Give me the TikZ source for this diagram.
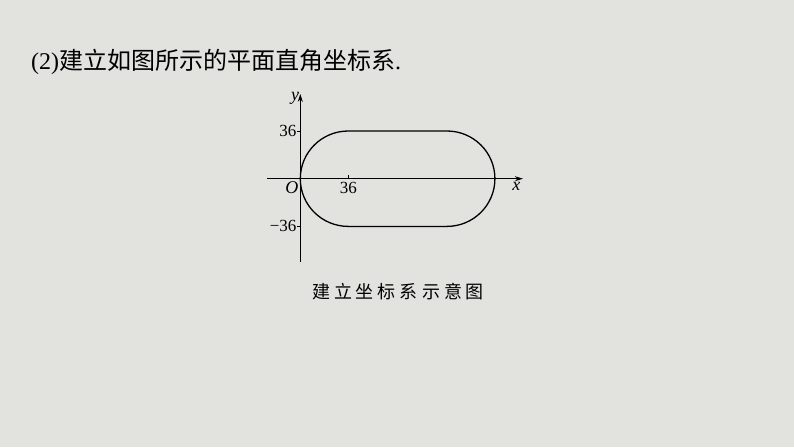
\documentclass[tikz,border=0pt]{standalone}
\usepackage{fontspec}
\setmainfont{Liberation Serif}
\newfontfamily\cjk{Noto Sans CJK SC}
\usepackage{tikz}
\usetikzlibrary{arrows,arrows.meta,positioning}
\definecolor{paper}{RGB}{226,226,223}
\tikzset{
  axis/.style={line width=1pt, -{Stealth[length=8pt,width=5pt]}},
  ticklbl/.style={inner sep=1pt, font=\fontsize{17}{17}\selectfont},
  axlbl/.style={inner sep=1pt, font=\fontsize{18}{18}\selectfont\itshape},
}
\begin{document}
\begin{tikzpicture}[x=1pt, y=-1pt]
  \fill[paper] (0,0) rectangle (794,447);
  \useasboundingbox (0,0) rectangle (794,447);
  \node[anchor=west, inner sep=0pt, font=\fontsize{24}{24}\selectfont] (title) at (31,62)
    {(2){\cjk 建立如图所示的平面直角坐标系}.};
  \begin{scope}[shift={(300.3,178.7)}]
  \begin{scope}[x=1.333pt, y=1.325pt]
    \coordinate (O) at (0,0);
    \coordinate (xs) at (-25,0);
    \coordinate (xe) at (167,0);
    \coordinate (ys) at (0,-63);
    \coordinate (ye) at (0,64);
    \draw[axis] (xs) -- (xe);
    \draw[axis] (ys) -- (ye);
    % stadium
    \draw[line width=1.3pt] (36,36) -- (110,36) arc (90:-90:36) -- (36,-36) arc (270:90:36);
    % ticks
    \draw (36,0) -- (36,3);
    \draw (0,36) -- (-2.5,36);
    \draw (0,-36) -- (-2.5,-36);
    \node[ticklbl, anchor=east] (ty1) at (-2,36) {36};
    \node[ticklbl, anchor=east] (ty2) at (-2,-36) {−36};
    \node[ticklbl, anchor=north] (tx1) at (36,-1.5) {36};
    \node[axlbl, anchor=north east] (lo) at (-0.5,-1) {O};
    \node[axlbl, anchor=north east] (lx) at ([shift={(-1,-2)}]xe) {x};
    \node[axlbl, anchor=east] (ly) at ([yshift=-4pt]ye) {y};
  \end{scope}
  \end{scope}
  \node[font=\fontsize{18}{18}\selectfont\cjk] (cap) at (398,292)
    {建\hspace{4pt}立\hspace{4pt}坐\hspace{4pt}标\hspace{4pt}系\hspace{4pt}示\hspace{4pt}意\hspace{4pt}图};
\end{tikzpicture}
\end{document}
